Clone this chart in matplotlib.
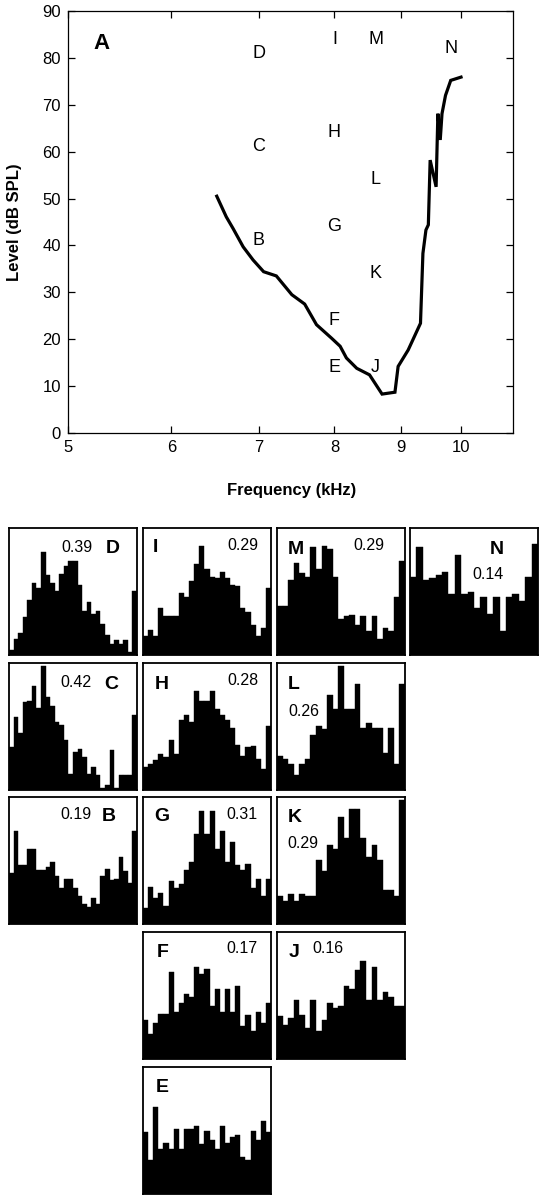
import numpy as np
import matplotlib
matplotlib.use("Agg")
import matplotlib.pyplot as plt

plt.rcParams["font.family"] = ["Liberation Sans", "DejaVu Sans"]

# threshold tuning curve (panel A)
freq_khz = [6.50, 6.61, 6.69, 6.81, 6.93, 7.06, 7.22, 7.42, 7.59, 7.75, 7.96, 8.08,
            8.17, 8.32, 8.51, 8.70, 8.90, 8.95, 9.11, 9.31, 9.35, 9.40, 9.44, 9.47,
            9.57, 9.60, 9.64, 9.67, 9.73, 9.82, 10.0]
level_db = [50.5, 46.1, 43.6, 39.7, 36.9, 34.4, 33.5, 29.5, 27.5, 23.1, 20.2, 18.5,
            16.0, 13.8, 12.4, 8.3, 8.7, 14.2, 17.7, 23.4, 38.3, 43.3, 44.4, 58.2,
            52.5, 68.1, 62.5, 68.1, 72.0, 75.2, 75.9]

# recording sites marked on the tuning curve
site_letters = ["D", "C", "B", "I", "H", "G", "F", "E", "M", "L", "K", "J", "N"]
site_freq = [7.0, 7.0, 7.0, 8.0, 8.0, 8.0, 8.0, 8.0, 8.6, 8.6, 8.6, 8.6, 9.82]
site_level = [81, 61, 41, 84, 64, 44, 24, 14, 84, 54, 34, 14, 82]

# period histograms (bar heights, % of panel height)
hist_D = [4, 13, 17.5, 30.5, 43.6, 57.4, 53, 82, 64, 57.4, 51, 64.5, 71, 75, 75, 56,
          35, 42, 33, 35, 25, 16, 8.6, 12, 9, 12, 2, 51]
hist_C = [33.8, 58, 45, 70, 71, 83, 65, 99, 74, 67, 54, 52, 40, 13, 30, 32.5, 26, 13,
          18, 12, 1.5, 4, 32, 1.5, 12, 12, 12, 59.5]
hist_B = [40.5, 74, 47, 47, 60, 60, 43, 43, 45, 49.6, 38, 28.7, 35.8, 35.8, 28.7, 22,
          15.7, 13.8, 21, 15.7, 38, 44, 35, 35.8, 53.5, 41.8, 32.6, 74]
hist_I = [15, 20, 15, 37, 31, 31, 31, 49, 46.5, 59, 72.6, 87, 68.7, 62, 61, 66, 61.6,
          55.6, 55, 37, 34.5, 23.5, 15, 21.7, 53]
hist_H = [18, 21, 23.5, 28.6, 26, 40, 28.6, 55.7, 59.5, 54, 79, 71, 71, 79, 64.7, 59.5,
          55.7, 49, 36, 27, 33.8, 35, 24.7, 17, 51]
hist_G = [13, 29.5, 21, 24.8, 14.4, 34, 28.7, 32, 43, 49.6, 71.8, 89.6, 71.8, 89.6, 60,
          74, 49.6, 65, 47, 43, 47.8, 28.7, 35.8, 22, 35.8]
hist_F = [31, 19.8, 28.6, 35.7, 35.7, 69.3, 37.6, 44.4, 51.6, 49.7, 73.5, 67.5, 71.4,
          41.8, 56, 37.6, 56, 37.6, 57.7, 26.5, 35, 22.5, 37.6, 28.6, 44.4]
hist_E = [49, 27, 69.5, 36, 40.5, 36, 52, 36, 52, 52, 54, 40, 50, 42.6, 36, 54, 40.5,
          45, 47, 29.5, 27, 50, 42.6, 58, 49]
hist_M = [39, 39, 59.5, 73, 65, 62, 86, 68.7, 87, 84, 62, 28.7, 30.8, 32, 23.5, 30.8,
          19, 30.8, 13, 21.7, 19, 46.5, 75]
hist_L = [27, 25, 21, 12, 21, 25, 44, 51, 48.5, 75.8, 64.7, 99, 64.7, 64.7, 84.5, 49,
          53.6, 49, 49, 29.4, 49, 21, 84]
hist_K = [22, 18, 24, 18, 24, 22, 22, 51, 42.5, 62.7, 60, 85, 68.7, 91.4, 91.4, 68.7,
          53.5, 62.7, 51, 27.4, 27.4, 22, 99]
hist_J = [33.9, 27, 33, 47, 35, 24.3, 47, 22.5, 31.2, 44.4, 40.2, 42.3, 58.2, 56, 70.9,
          78, 47, 73.5, 47, 53.4, 49.7, 42.3, 42.3]
hist_N = [62, 86, 59.5, 61.6, 64, 66, 48.5, 79.6, 48.5, 50, 37.3, 45.9, 32.4, 45.9, 19,
          45.9, 48.5, 43.3, 62, 88]

# vector strength shown in each panel
vector_strength = {"D": "0.39", "C": "0.42", "B": "0.19", "I": "0.29", "H": "0.28",
                   "G": "0.31", "F": "0.17", "E": "", "M": "0.29", "L": "0.26",
                   "K": "0.29", "J": "0.16", "N": "0.14"}

hists = {"D": hist_D, "C": hist_C, "B": hist_B, "I": hist_I, "H": hist_H, "G": hist_G,
         "F": hist_F, "E": hist_E, "M": hist_M, "L": hist_L, "K": hist_K, "J": hist_J,
         "N": hist_N}

# layout: (row, col, letter x/y, value x/y) in axes fractions
layout = {
    "D": (0, 0, (0.81, 0.84), (0.53, 0.85)),
    "I": (0, 1, (0.10, 0.85), (0.78, 0.86)),
    "M": (0, 2, (0.15, 0.83), (0.72, 0.86)),
    "N": (0, 3, (0.68, 0.83), (0.61, 0.63)),
    "C": (1, 0, (0.80, 0.83), (0.52, 0.85)),
    "H": (1, 1, (0.15, 0.83), (0.78, 0.86)),
    "L": (1, 2, (0.13, 0.83), (0.21, 0.62)),
    "B": (2, 0, (0.78, 0.85), (0.52, 0.86)),
    "G": (2, 1, (0.15, 0.85), (0.77, 0.86)),
    "K": (2, 2, (0.14, 0.84), (0.20, 0.63)),
    "F": (3, 1, (0.15, 0.84), (0.77, 0.87)),
    "J": (3, 2, (0.13, 0.84), (0.40, 0.87)),
    "E": (4, 1, (0.15, 0.84), (0.5, 0.87)),
}

W, H = 544, 1200
fig = plt.figure(figsize=(W / 100, H / 100), dpi=100)

# --- panel A: tuning curve ---
ax = fig.add_axes([68 / W, 1 - 433 / H, (513 - 68) / W, (433 - 11) / H])
ax.plot(freq_khz, level_db, color="black", lw=2.3, solid_joinstyle="miter")
ax.set_xscale("log")
ax.set_xlim(5, 10.96)
ax.set_ylim(0, 90)
ax.set_xticks([5, 6, 7, 8, 9, 10])
ax.set_xticklabels(["5", "6", "7", "8", "9", "10"])
ax.xaxis.set_minor_locator(matplotlib.ticker.NullLocator())
ax.set_yticks(range(0, 91, 10))
ax.tick_params(direction="in", top=True, right=True, length=5, width=0.9,
               labelsize=12, pad=5)
for s in ax.spines.values():
    s.set_linewidth(0.9)
for lab, f, lv in zip(site_letters, site_freq, site_level):
    ax.text(f, lv, lab, ha="center", va="center", fontsize=13)
ax.text(0.076, 0.924, "A", transform=ax.transAxes, fontsize=16, fontweight="bold",
        ha="center", va="center")
fig.text(15 / W, 1 - 222 / H, "Level (dB SPL)", rotation=90, ha="center",
         va="center", fontsize=12, fontweight="bold")
fig.text(292 / W, 1 - 491 / H, "Frequency (kHz)", ha="center", va="center",
         fontsize=12, fontweight="bold")

# --- period histograms ---
col_left = [9, 143, 277, 410]
row_top = [528, 663, 797, 932, 1067]
pw, ph = 128, 127

for key, (r, c, lpos, vpos) in layout.items():
    vals = hists[key]
    hx = fig.add_axes([col_left[c] / W, 1 - (row_top[r] + ph) / H, pw / W, ph / H])
    hx.bar(np.arange(len(vals)), vals, width=1.0, align="edge", color="black",
           edgecolor="black", linewidth=0.3)
    hx.set_xlim(0, len(vals))
    hx.set_ylim(0, 101)
    hx.set_xticks([])
    hx.set_yticks([])
    for s in hx.spines.values():
        s.set_linewidth(1.3)
    hx.text(lpos[0], lpos[1], key, transform=hx.transAxes, fontsize=14,
            fontweight="bold", ha="center", va="center")
    if vector_strength[key]:
        hx.text(vpos[0], vpos[1], vector_strength[key], transform=hx.transAxes,
                fontsize=11.5, ha="center", va="center")

fig.savefig("out.png", dpi=100)
